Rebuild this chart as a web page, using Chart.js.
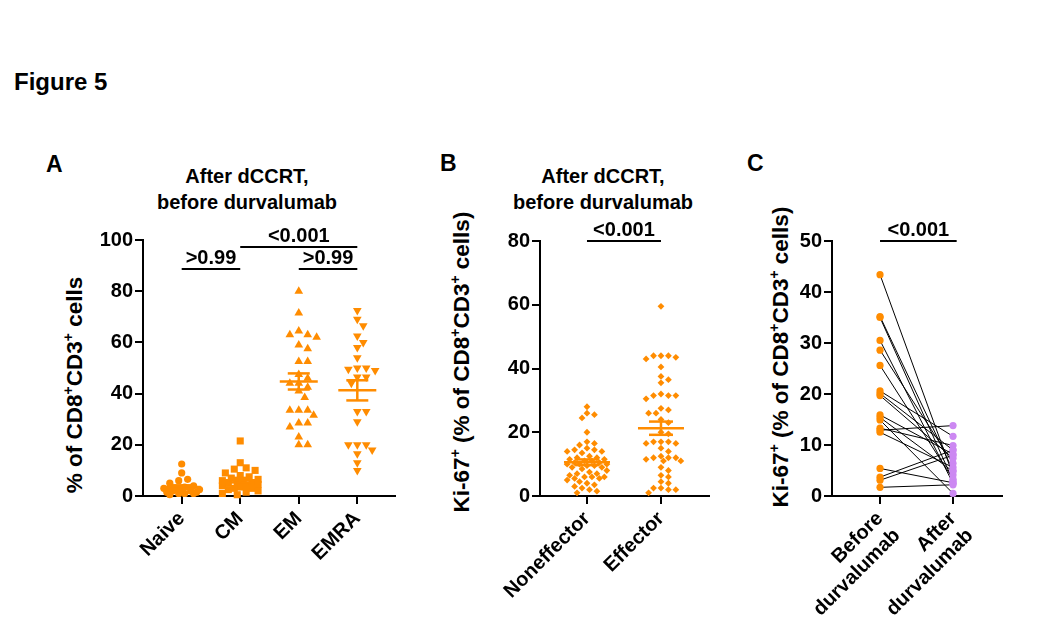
<!DOCTYPE html>
<html><head><meta charset="utf-8">
<script src="https://cdn.jsdelivr.net/npm/chart.js@4"></script>
<style>
body{margin:0;background:#fff;width:1051px;height:643px;position:relative;overflow:hidden;font-family:"Liberation Sans",Arial,sans-serif;color:#000}
.t{position:absolute;white-space:nowrap;font-weight:bold;line-height:1}
.c{transform:translateX(-50%);text-align:center}
.yt{position:absolute;white-space:nowrap;font-weight:bold;font-size:22.5px;line-height:1;transform:translate(-50%,-50%) rotate(-90deg)}
sup{font-size:62%;vertical-align:0.6em;line-height:0}
canvas{position:absolute}
</style></head><body>
<div class="t" style="left:14px;top:70px;font-size:24px">Figure 5</div>
<div class="t" style="left:46px;top:153px;font-size:23px">A</div>
<div class="t" style="left:440px;top:152px;font-size:23px">B</div>
<div class="t" style="left:747px;top:152px;font-size:23px">C</div>
<div class="t c" style="left:247px;top:166px;font-size:20px">After dCCRT,</div>
<div class="t c" style="left:247px;top:192px;font-size:20px">before durvalumab</div>
<div class="t c" style="left:603px;top:166px;font-size:20px">After dCCRT,</div>
<div class="t c" style="left:603px;top:192px;font-size:20px">before durvalumab</div>
<div class="yt" style="left:75px;top:385px">% of CD8<sup>+</sup>CD3<sup>+</sup> cells</div>
<div class="yt" style="left:462px;top:362px">Ki-67<sup>+</sup> (% of CD8<sup>+</sup>CD3<sup>+</sup> cells)</div>
<div class="yt" style="left:781px;top:357px">Ki-67<sup>+</sup> (% of CD8<sup>+</sup>CD3<sup>+</sup> cells)</div>
<canvas id="cA" width="400" height="430" style="left:0;top:200px"></canvas>
<canvas id="cB" width="315" height="430" style="left:400px;top:200px"></canvas>
<canvas id="cC" width="300" height="443" style="left:715px;top:200px"></canvas>
<script>
// ---------------- data ----------------
const catsA = ['Naive', 'CM', 'EM', 'EMRA'];
const naive = [12.5, 9, 6.5, 6, 5, 4, 3.5, 3, 3, 2.5, 2.5, 2, 2, 2, 1.5, 1.5, 1, 1, 1, 0.5];
const cm = [21.5, 13, 11, 10.5, 10, 9, 8, 7.5, 7, 6.5, 6, 6, 5.5, 5, 5, 4.5, 4, 4, 3.5, 3, 3, 2.5, 2, 1.5, 1, 0.5];
const em = [80, 71.5, 64.5, 63, 63, 62, 59, 57.5, 52.5, 52.5, 47.5, 46, 44, 44, 42.5, 41, 38.5, 33.5, 33.5, 33.5, 31.5, 28.5, 28.5, 27, 23, 20, 20];
const emra = [72.5, 69, 66.5, 62.5, 60, 58, 54, 50, 50, 49, 49.5, 46.5, 46.5, 44, 33, 33, 29, 20, 20, 20, 18, 16.5, 13, 10];
const ticksA = [0, 20, 40, 60, 80, 100];
const pA = ['>0.99', '<0.001', '>0.99'];

const catsB = ['Noneffector', 'Effector'];
const noneffector = [28, 26, 25.5, 24.5, 20, 17, 16.5, 16, 15, 14.5, 14.5, 14, 14, 13.5, 12.5, 12, 12, 11.5, 11.5, 11, 11, 10.5, 10.5, 10, 10, 10, 9.5, 9.5, 9, 9, 8.5, 8, 7.5, 7, 7, 6.5, 6, 6, 6, 5.5, 5.5, 5, 4.5, 4, 3.5, 3, 2.5, 2, 1.5, 1];
const effector = [59.5, 44, 44, 44, 43.5, 43, 40.5, 37.5, 36.5, 35.5, 32, 31.5, 31.5, 31.5, 30.5, 27.5, 27, 26, 26, 24, 23, 20, 19.5, 17, 17, 17, 16.5, 16.5, 15, 14, 12.5, 12, 12, 12, 11.5, 11, 11, 9, 8, 6.5, 6, 4.5, 4, 2.5, 2.5, 2, 2, 1];
const ticksB = [0, 20, 40, 60, 80];
const pB = ['<0.001'];

const catsC = [['Before', 'durvalumab'], ['After', 'durvalumab']];
const beforeDurva = [43.4, 35.2, 35.0, 30.5, 28.6, 25.6, 20.6, 20.1, 19.7, 15.9, 15.4, 14.9, 13.3, 12.9, 12.5, 5.4, 3.7, 3.1, 1.7];
const afterDurva  = [4.1, 5.0, 3.0, 2.5, 6.4, 3.3, 11.7, 9.0, 7.4, 8.2, 4.8, 0.5, 9.9, 13.8, 5.6, 2.6, 9.0, 8.0, 2.2];
const ticksC = [0, 10, 20, 30, 40, 50];
const pC = ['<0.001'];

// ---------------- style ----------------
const ORANGE = '#FF8C00';
const PURPLE = '#CC88F2';
const FONT = '"Liberation Sans", Arial, sans-serif';
Chart.defaults.font = {family: FONT, size: 20, weight: 'bold'};
Chart.defaults.color = '#000';

// beeswarm horizontal spread (GraphPad-like) computed from the values, capped width
function swarm(values, idx, dia, xPx, yPx, maxHalf) {
  const placed = [], out = [];
  const sorted = values.slice().sort((a, b) => b - a);
  const cands = [0];
  for (let k = 1; k < 80; k++) { cands.push(k * dia * 0.4, -k * dia * 0.4); }
  for (const v of sorted) {
    const py = v * yPx;
    let best = 0, bestD = -1;
    for (const c of cands) {
      if (Math.abs(c) > maxHalf) continue;
      const dmin = placed.reduce((m, q) => Math.min(m, (q.x - c) ** 2 + (q.y - py) ** 2), Infinity);
      if (dmin >= dia * dia * 0.92) { best = c; break; }
      if (dmin > bestD) { bestD = dmin; best = c; }
    }
    placed.push({x: best, y: py});
    out.push({x: idx + best / xPx, y: v});
  }
  return out;
}

const meanSemPlugin = {
  id: 'meanSem',
  afterDatasetsDraw(chart, args, opts) {
    if (!opts.groups) return;
    const {ctx, scales: {x, y}} = chart;
    ctx.save(); ctx.strokeStyle = ORANGE; ctx.lineWidth = 2.5;
    opts.groups.forEach((vals, i) => {
      const n = vals.length, m = vals.reduce((a, b) => a + b, 0) / n;
      const sd = Math.sqrt(vals.reduce((a, b) => a + (b - m) ** 2, 0) / (n - 1));
      const se = sd / Math.sqrt(n);
      const cx = x.getPixelForValue(i);
      const hl = (v, h) => { const py = y.getPixelForValue(v); ctx.beginPath(); ctx.moveTo(cx - h, py); ctx.lineTo(cx + h, py); ctx.stroke(); };
      hl(m, opts.meanHalf); hl(m + se, opts.capHalf); hl(m - se, opts.capHalf);
      ctx.beginPath(); ctx.moveTo(cx, y.getPixelForValue(m + se)); ctx.lineTo(cx, y.getPixelForValue(m - se)); ctx.stroke();
    });
    ctx.restore();
  }
};

const sigPlugin = {
  id: 'sig',
  afterDraw(chart, args, opts) {
    if (!opts.items) return;
    const {ctx, scales: {x, y}} = chart;
    ctx.save(); ctx.strokeStyle = '#000'; ctx.fillStyle = '#000'; ctx.lineWidth = 2;
    ctx.font = 'bold 20px ' + FONT; ctx.textAlign = 'center'; ctx.textBaseline = 'alphabetic';
    opts.items.forEach(it => {
      const x1 = x.getPixelForValue(it.from), x2 = x.getPixelForValue(it.to), py = Math.round(y.getPixelForValue(it.y));
      ctx.beginPath(); ctx.moveTo(x1, py); ctx.lineTo(x2, py); ctx.stroke();
      ctx.fillText(it.text, (x1 + x2) / 2, py - 5);
    });
    ctx.restore();
  }
};
Chart.register(meanSemPlugin, sigPlugin);

function axes(o) {
  return {
    x: {
      type: 'linear', min: o.xmin, max: o.xmax,
      afterBuildTicks: s => { s.ticks = o.cats.map((c, i) => ({value: i})); },
      afterFit: s => { s.height = o.xh; },
      ticks: {autoSkip: false, minRotation: 45, maxRotation: 45, padding: 3,
              callback: (v) => o.cats[v], font: {size: 20, weight: 'bold'}},
      grid: {display: true, drawOnChartArea: false, drawTicks: true, tickLength: 8, color: '#000', lineWidth: 2},
      border: {display: true, color: '#000', width: 2}
    },
    y: {
      type: 'linear', min: 0, max: o.ymax,
      afterBuildTicks: s => { s.ticks = o.yticks.map(v => ({value: v})); },
      afterFit: s => { s.width = o.yw; },
      ticks: {padding: 2, font: {size: 20, weight: 'bold'}},
      grid: {display: true, drawOnChartArea: false, drawTicks: true, tickLength: 8, color: '#000', lineWidth: 2},
      border: {display: true, color: '#000', width: 2}
    }
  };
}
function baseOpts(o, plugins) {
  return {
    responsive: false, animation: false, events: [],
    layout: {padding: {top: o.pt, right: o.pr, left: 0, bottom: 0}},
    scales: axes(o),
    plugins: Object.assign({legend: {display: false}, tooltip: {enabled: false}}, plugins)
  };
}

// ---------------- Panel A ----------------
const LA = {xmin: -0.661, xmax: 3.644, ymax: 100, yw: 143, xh: 134, pt: 40, pr: 3, cats: catsA, yticks: ticksA};
const axPxA = 254 / (LA.xmax - LA.xmin), ayPxA = 256 / LA.ymax;
const groupsA = [naive, cm, em, emra];
const stylesA = [['circle', 3.6, 0], ['rect', 5, 0], ['triangle', 5, 0], ['triangle', 5, 180]];
new Chart(document.getElementById('cA'), {
  type: 'scatter',
  data: {datasets: groupsA.map((g, i) => ({
    data: swarm(g, i, 7.5, axPxA, ayPxA, 19),
    pointStyle: stylesA[i][0], pointRadius: stylesA[i][1], pointRotation: stylesA[i][2],
    backgroundColor: ORANGE, borderColor: ORANGE, borderWidth: 0, clip: false
  }))},
  options: baseOpts(LA, {
    meanSem: {groups: groupsA, meanHalf: 19, capHalf: 11},
    sig: {items: [{from: 0, to: 1, y: 88.7, text: pA[0]}, {from: 1, to: 3, y: 97.3, text: pA[1]}, {from: 2, to: 3, y: 88.7, text: pA[2]}]}
  })
});

// ---------------- Panel B ----------------
const LB = {xmin: -0.635, xmax: 1.649, ymax: 80, yw: 140, xh: 134, pt: 41, pr: 6, cats: catsB, yticks: ticksB};
const axPxB = 169 / (LB.xmax - LB.xmin), ayPxB = 255 / LB.ymax;
const groupsB = [noneffector, effector];
new Chart(document.getElementById('cB'), {
  type: 'scatter',
  data: {datasets: groupsB.map((g, i) => ({
    data: swarm(g, i, 6.2, axPxB, ayPxB, 22),
    pointStyle: 'rectRot', pointRadius: 3.4,
    backgroundColor: ORANGE, borderColor: ORANGE, borderWidth: 0, clip: false
  }))},
  options: baseOpts(LB, {
    meanSem: {groups: groupsB, meanHalf: 23, capHalf: 12},
    sig: {items: [{from: 0, to: 1, y: 80, text: pB[0]}]}
  })
});

// ---------------- Panel C ----------------
const LC = {xmin: -0.658, xmax: 1.671, ymax: 50, yw: 117, xh: 147, pt: 41, pr: 13, cats: catsC, yticks: ticksC};
const dsC = [
  {type: 'scatter', data: beforeDurva.map(v => ({x: 0, y: v})), pointStyle: 'circle', pointRadius: 3.6,
   backgroundColor: ORANGE, borderColor: ORANGE, borderWidth: 0, clip: false, order: 0},
  {type: 'scatter', data: afterDurva.map(v => ({x: 1, y: v})), pointStyle: 'circle', pointRadius: 3.6,
   backgroundColor: PURPLE, borderColor: PURPLE, borderWidth: 0, clip: false, order: 0}
];
beforeDurva.forEach((b, i) => dsC.push({
  type: 'line', data: [{x: 0, y: b}, {x: 1, y: afterDurva[i]}],
  borderColor: '#000', borderWidth: 1, pointRadius: 0, fill: false, clip: false, order: 1
}));
new Chart(document.getElementById('cC'), {
  type: 'scatter',
  data: {datasets: dsC},
  options: baseOpts(LC, {sig: {items: [{from: 0, to: 1.05, y: 50, text: pC[0]}]}})
});
</script>
</body></html>
